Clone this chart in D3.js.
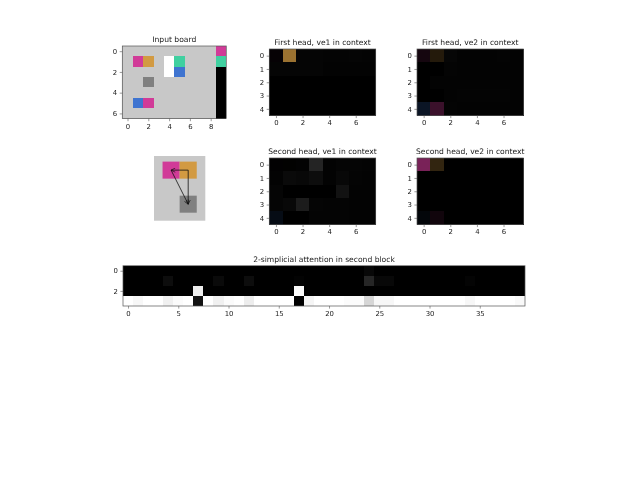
<!DOCTYPE html>
<html><head><meta charset="utf-8">
<script src="https://cdn.jsdelivr.net/npm/d3@7/dist/d3.min.js"></script>
<style>html,body{margin:0;padding:0;background:#fff}svg{display:block;filter:blur(.4px)}text{font-family:"DejaVu Sans";fill:#222;text-rendering:geometricPrecision}</style>
</head><body><svg id="c" width="640" height="480"></svg>
<script>
// palette names used by the board cells
const palette = {g:"#c8c8c8",p:"#d13b98",o:"#d29a42",t:"#40d0a0",b:"#3f74d0",m:"#808080",w:"#ffffff",k:"#000000"};
const boardRows = ["gggggggggp","gpogwtgggt","ggggwbgggk","ggmggggggk","gggggggggk","gbpggggggk","gggggggggk"];
const contextTint = ["poWWWWWW","WWWWWWWW","WWWWWWWW","WWWWWWWW","bpWWWWWW"];
const firstVe1 = [[.03,.74,.02,.02,.015,.015,.02,.015],[.02,.02,.02,.02,.01,.01,.01,.01],[0,0,0,0,0,0,0,0],[0,0,0,0,0,0,0,0],[0,0,0,0,0,0,0,0]];
const firstVe2 = [[.10,.17,.025,.01,.01,.01,.015,.01],[0,0,.015,.01,.01,.01,.01,.01],[0,.01,.01,.01,.01,.01,.01,.01],[0,0,.01,.015,.015,.015,.015,.01],[.18,.28,.015,.01,.01,.01,.01,.01]];
const secondVe1 = [[.01,.01,.01,.14,.01,.02,.02,.015],[.01,.04,.03,.05,.01,.03,.015,.01],[.02,0,0,0,0,.07,.01,.01],[.02,.03,.11,.02,.015,.015,.01,.01],[.1,0,0,.015,.015,.015,.01,.01]];
const secondVe2 = [[.58,.24,0,0,0,0,0,0],[0,0,0,0,0,0,0,0],[0,0,0,0,0,0,0,0],[0,0,0,0,0,0,0,0],[.05,.08,0,0,0,0,0,0]];
const attnRow0 = {24:.03};
const attnRow1 = {4:.05,9:.04,12:.05,24:.15,25:.03,26:.03,17:.01,34:.015};
const attnRow2 = {7:.93,17:.98};
const attnRow3 = {1:.97,4:.94,5:.985,7:.07,9:.94,10:.985,12:.93,17:0,18:.96,24:.84,25:.97,26:.97,22:.985,23:.985,34:.97,39:.975};
const sketchCells = [{c:0,r:0,k:"p"},{c:1,r:0,k:"o"},{c:1,r:2,k:"m"}];
const sketchEdges = [[1,0,0,0],[1,0,1,2],[0,0,1,2]];
const titles = ["Input board","First head, ve1 in context","First head, ve2 in context","Second head, ve1 in context","Second head, ve2 in context","2-simplicial attention in second block"];
const xTicks8 = [0,2,4,6], yTicks5 = [0,1,2,3,4], xTicksBoard = [0,2,4,6,8], yTicksBoard = [0,2,4,6], xTicksAttn = [0,5,10,15,20,25,30,35], yTicksAttn = [0,2];

const svg = d3.select("#c");
const spine = "#555";
function panel(b, nCols, nRows, title, xt, yt, colorAt){
  const x = d3.scaleLinear().domain([-.5,nCols-.5]).range([b.l,b.r]);
  const y = d3.scaleLinear().domain([-.5,nRows-.5]).range([b.t,b.b]);
  const g = svg.append("g");
  for(let r=0;r<nRows;r++) for(let c=0;c<nCols;c++){
    g.append("rect").attr("x",x(c-.5)).attr("y",y(r-.5)).attr("width",x(c+.5)-x(c-.5)).attr("height",y(r+.5)-y(r-.5))
     .attr("fill",colorAt(r,c)).attr("shape-rendering","crispEdges");
  }
  g.append("rect").attr("x",b.l).attr("y",b.t).attr("width",b.r-b.l).attr("height",b.b-b.t).attr("fill","none").attr("stroke",spine).attr("stroke-width",.7);
  const ax = g.append("g").attr("transform",`translate(0,${b.b})`).call(d3.axisBottom(x).tickValues(xt).tickSize(2.6).tickPadding(2.5).tickFormat(d3.format("d")));
  const ay = g.append("g").attr("transform",`translate(${b.l},0)`).call(d3.axisLeft(y).tickValues(yt).tickSize(2.6).tickPadding(2.5).tickFormat(d3.format("d")));
  for(const a of [ax,ay]){a.select(".domain").remove();a.selectAll("line").attr("stroke",spine).attr("stroke-width",.6);a.selectAll("text").attr("font-size",6.9).attr("font-family","DejaVu Sans").attr("fill","#222");}
  g.append("text").attr("x",(b.l+b.r)/2).attr("y",b.t-4.2).attr("text-anchor","middle").attr("font-size",7.6).text(title);
}
const tintOf = k => k==="W" ? d3.rgb(255,255,255) : d3.rgb(palette[k]);
const scaled = (k,v)=>{const t=tintOf(k);return d3.rgb(t.r*v,t.g*v,t.b*v).formatHex();};
const ctx = m => (r,c)=>scaled(contextTint[r][c],m[r][c]);
const gray = v => d3.rgb(255*v,255*v,255*v).formatHex();

panel({l:122.3,r:226.3,t:46,b:118.6},10,7,titles[0],xTicksBoard,yTicksBoard,(r,c)=>palette[boardRows[r][c]]);
panel({l:269.3,r:375.7,t:49,b:115.5},8,5,titles[1],xTicks8,yTicks5,ctx(firstVe1));
panel({l:417,r:523.5,t:49,b:115.5},8,5,titles[2],xTicks8,yTicks5,ctx(firstVe2));
panel({l:269.3,r:375.7,t:158,b:224.5},8,5,titles[3],xTicks8,yTicks5,ctx(secondVe1));
panel({l:417,r:523.5,t:158,b:224.5},8,5,titles[4],xTicks8,yTicks5,ctx(secondVe2));
const attn=[attnRow0,attnRow1,attnRow2,attnRow3];
panel({l:123,r:525,t:265.7,b:306},40,4,titles[5],xTicksAttn,yTicksAttn,(r,c)=>gray(attn[r][c]!==undefined?attn[r][c]:(r===3?1:0)));

// sketch of the simplex
const sb={l:154,r:205.3,t:156,b:220.7};
const sx=d3.scaleLinear().domain([-.5,2.5]).range([sb.l,sb.r]);
const sy=d3.scaleLinear().domain([-.33,3.47]).range([sb.t,sb.b]);
svg.append("defs").append("marker").attr("id","ah").attr("viewBox","0 0 10 10").attr("refX",9).attr("refY",5).attr("markerWidth",6.5).attr("markerHeight",6.5).attr("orient","auto")
  .append("path").attr("d","M1,1L9,5L1,9").attr("fill","none").attr("stroke","#111").attr("stroke-width",1.3);
svg.append("rect").attr("x",sb.l).attr("y",sb.t).attr("width",sb.r-sb.l).attr("height",sb.b-sb.t).attr("fill",palette.g);
svg.selectAll(".sc").data(sketchCells).join("rect").attr("x",d=>sx(d.c)).attr("y",d=>sy(d.r)).attr("width",sx(1)-sx(0)).attr("height",sy(1)-sy(0)).attr("fill",d=>palette[d.k]);
svg.selectAll(".se").data(sketchEdges).join("line").attr("x1",d=>sx(d[0]+.5)).attr("y1",d=>sy(d[1]+.5)).attr("x2",d=>sx(d[2]+.5)).attr("y2",d=>sy(d[3]+.5))
  .attr("stroke","#111").attr("stroke-width",.8).attr("marker-end","url(#ah)");
</script></body></html>
